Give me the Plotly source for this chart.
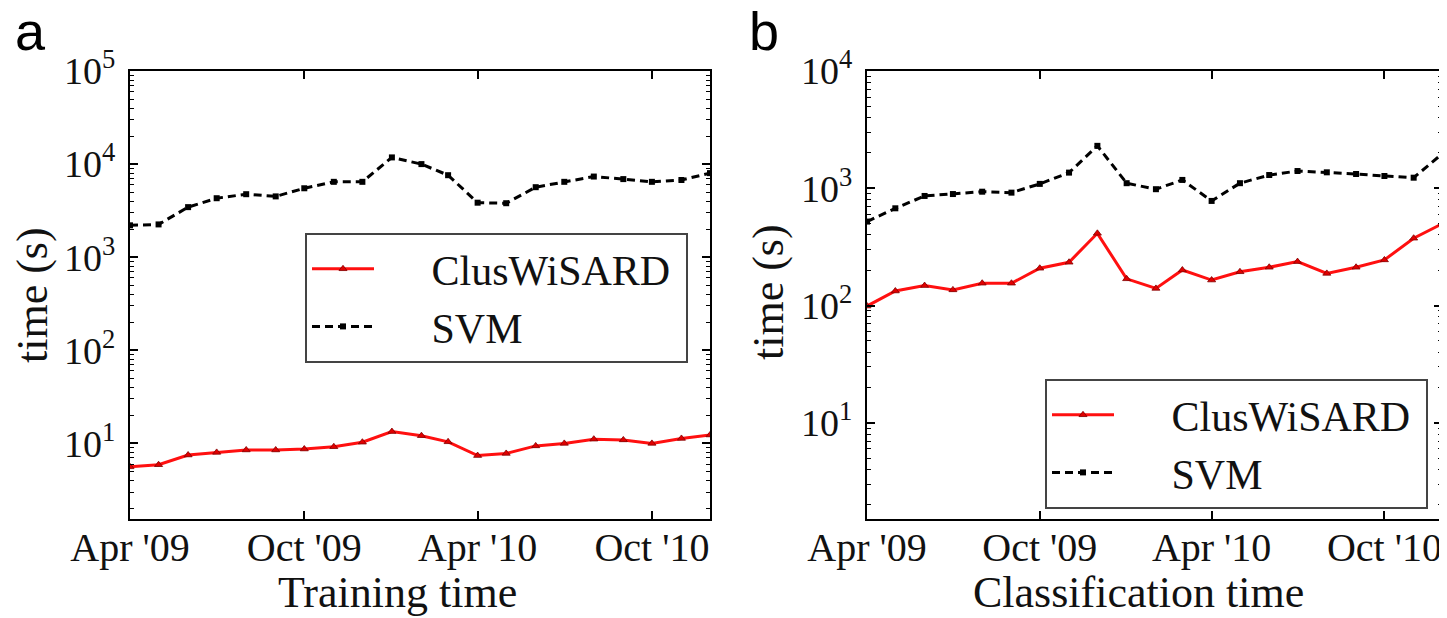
import plotly.graph_objects as go

months = ["2009-04-01", "2009-05-01", "2009-06-01", "2009-07-01", "2009-08-01",
          "2009-09-01", "2009-10-01", "2009-11-01", "2009-12-01", "2010-01-01",
          "2010-02-01", "2010-03-01", "2010-04-01", "2010-05-01", "2010-06-01",
          "2010-07-01", "2010-08-01", "2010-09-01", "2010-10-01", "2010-11-01",
          "2010-12-01"]

train_clus = [5.6, 5.9, 7.5, 8.0, 8.5, 8.5, 8.7, 9.2, 10.3, 13.4, 12.1, 10.4,
              7.4, 7.8, 9.4, 10.0, 11.1, 10.9, 10.0, 11.3, 12.3]
train_svm = [2200, 2250, 3450, 4300, 4750, 4500, 5500, 6450, 6450, 11800, 10000,
             7600, 3850, 3800, 5650, 6450, 7350, 6900, 6450, 6750, 8000]

class_clus = [99, 133, 148, 136, 155, 155, 208, 234, 413, 169, 140, 201, 165,
              194, 212, 237, 188, 212, 245, 375, 497]
class_svm = [520, 675, 860, 893, 935, 918, 1090, 1360, 2300, 1105, 982, 1178,
             780, 1105, 1297, 1403, 1368, 1324, 1273, 1231, 1960]

series_names = ["ClusWiSARD", "SVM"]
x_tick_vals = ["2009-04-01", "2009-10-01", "2010-04-01", "2010-10-01"]
x_tick_text = ["Apr '09", "Oct '09", "Apr '10", "Oct '10"]
y_left_vals = [10, 100, 1000, 10000, 100000]
y_left_text = ["10<sup>1</sup>", "10<sup>2</sup>", "10<sup>3</sup>", "10<sup>4</sup>", "10<sup>5</sup>"]
y_right_vals = [10, 100, 1000, 10000]
y_right_text = ["10<sup>1</sup>", "10<sup>2</sup>", "10<sup>3</sup>", "10<sup>4</sup>"]
x_titles = ["Training time", "Classification time"]
y_title = "time (s)"
panel_letters = ["a", "b"]

W, H = 1447, 618
OFF = 8  # page body margin offset
SERIF = "Liberation Serif"
SANS = "Liberation Sans"
NB = "\u00a0"

def px(x):
    return (x - OFF) / W

def py(y):
    return (H - (y - OFF)) / H

minor_vals = [m * 10 ** k for k in range(0, 6) for m in range(2, 10)]

fig = go.Figure()

red_style = dict(mode="lines+markers",
                 line=dict(color="#ff1010", width=3),
                 marker=dict(symbol="triangle-up", size=7, color="#e00000",
                             line=dict(color="#800000", width=0.8)))
blk_style = dict(mode="lines+markers",
                 line=dict(color="black", width=3, dash="8px,5px"),
                 marker=dict(symbol="square", size=6, color="black"))

def lname(n):
    return NB * 5 + n + NB

fig.add_trace(go.Scatter(x=months, y=train_clus, name=lname(series_names[0]), xaxis="x", yaxis="y",
                         legend="legend", **red_style))
fig.add_trace(go.Scatter(x=months, y=train_svm, name=lname(series_names[1]), xaxis="x", yaxis="y",
                         legend="legend", **blk_style))
fig.add_trace(go.Scatter(x=months, y=class_clus, name=lname(series_names[0]), xaxis="x2", yaxis="y2",
                         legend="legend2", **red_style))
fig.add_trace(go.Scatter(x=months, y=class_svm, name=lname(series_names[1]), xaxis="x2", yaxis="y2",
                         legend="legend2", **blk_style))

def xaxis_cfg(domain, anchor):
    return dict(domain=domain, anchor=anchor, type="date", automargin=False,
                range=["2009-04-01", "2010-12-01"],
                tickmode="array", tickvals=x_tick_vals, ticktext=x_tick_text,
                ticks="inside", ticklen=8, tickwidth=1.5, tickcolor="black",
                showline=True, linecolor="black", linewidth=2, mirror="ticks",
                showgrid=False, zeroline=False, ticklabelstandoff=-8,
                tickfont=dict(family=SERIF, size=40, color="#111"))

def yaxis_cfg(domain, anchor, rng, vals, text):
    return dict(domain=domain, anchor=anchor, type="log", range=rng, automargin=False,
                tickmode="array", tickvals=vals, ticktext=text,
                ticks="inside", ticklen=8, tickwidth=1.5, tickcolor="black",
                showline=True, linecolor="black", linewidth=2, mirror="ticks",
                showgrid=False, zeroline=False, ticklabelstandoff=5,
                minor=dict(tickmode="array", tickvals=minor_vals, ticks="inside",
                           ticklen=4, tickwidth=1, tickcolor="black", showgrid=False),
                tickfont=dict(family=SERIF, size=38, color="#111"))

ydom = [py(519), py(71)]
legend_common = dict(bordercolor="#444", borderwidth=2, bgcolor="white",
                     font=dict(family=SERIF, size=42, color="#111"), itemwidth=62,
                     tracegroupgap=0)
fig.update_layout(
    width=W, height=H,
    margin=dict(l=0, r=0, t=0, b=0, autoexpand=False),
    paper_bgcolor="white", plot_bgcolor="white",
    showlegend=True,
    xaxis=xaxis_cfg([px(130), px(710)], "y"),
    yaxis=yaxis_cfg(ydom, "x", [0.188, 5], y_left_vals, y_left_text),
    xaxis2=xaxis_cfg([px(867), px(1442)], "y2"),
    yaxis2=yaxis_cfg(ydom, "x2", [0.18, 4], y_right_vals, y_right_text),
    legend=dict(x=px(688), xanchor="right", y=py(233), yanchor="top", **legend_common),
    legend2=dict(x=px(1428), xanchor="right", y=py(379), yanchor="top", **legend_common),
)

annos = []
for cx, t in zip([398, 1138], x_titles):
    annos.append(dict(text=t, x=px(cx), y=py(592), xref="paper", yref="paper",
                      xanchor="center", yanchor="middle", showarrow=False,
                      font=dict(family=SERIF, size=44, color="#111")))
for cx, cy in [(32, 295), (768, 292)]:
    annos.append(dict(text=y_title, x=px(cx), y=py(cy), xref="paper", yref="paper",
                      xanchor="center", yanchor="middle", showarrow=False, textangle=-90,
                      font=dict(family=SERIF, size=44, color="#111")))
for cx, cy, letter in zip([30, 764], [31, 31], panel_letters):
    annos.append(dict(text=letter, x=px(cx), y=py(cy), xref="paper", yref="paper",
                      xanchor="center", yanchor="middle", showarrow=False,
                      font=dict(family=SANS, size=54, color="black")))
fig.update_layout(annotations=annos)

fig.write_html("out.html")
